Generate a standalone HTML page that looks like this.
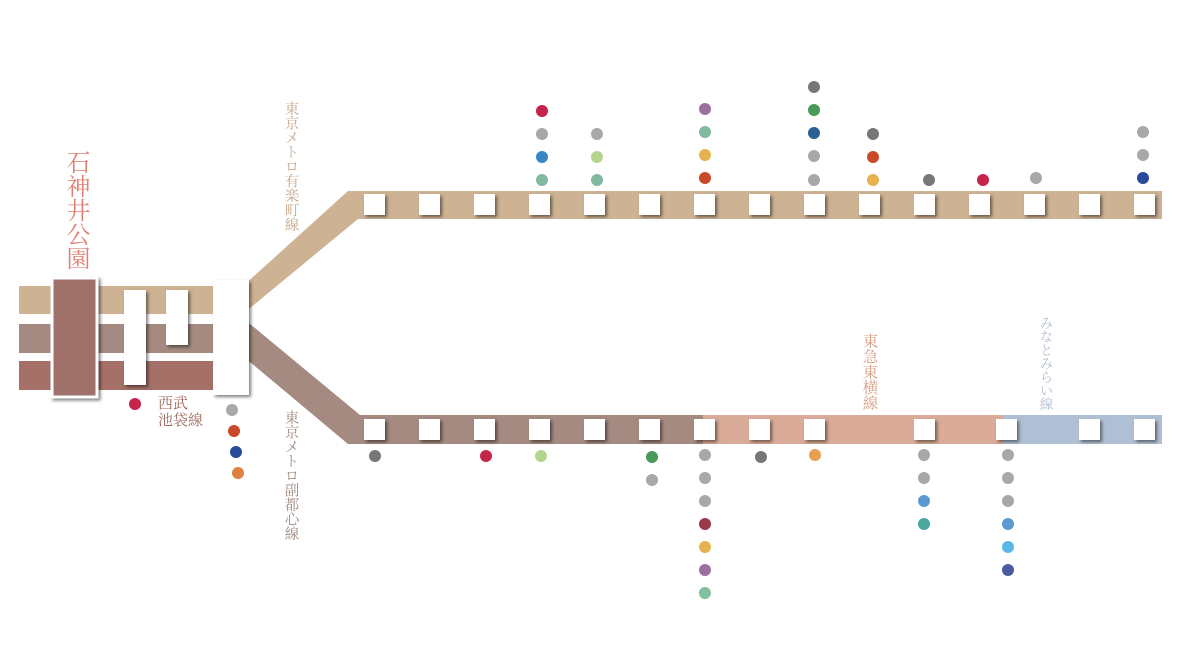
<!DOCTYPE html>
<html><head><meta charset="utf-8"><style>
body{margin:0;width:1200px;height:670px;background:#fff;overflow:hidden;position:relative;font-family:"Liberation Serif","Noto Serif CJK SC","Noto Sans CJK JP",serif}
.v{position:absolute;writing-mode:vertical-rl;line-height:1;}
</style></head><body>
<svg width="1200" height="670" style="position:absolute;left:0;top:0">
<defs><filter id="s" x="-30%" y="-30%" width="170%" height="170%"><feDropShadow dx="2" dy="2" stdDeviation="1.5" flood-color="#000" flood-opacity="0.5"/></filter></defs>
<rect x="19" y="286" width="200" height="28" fill="#cdb293"/>
<rect x="19" y="324" width="200" height="29" fill="#a48a80"/>
<rect x="19" y="361" width="200" height="29" fill="#a47068"/>
<polygon points="213,286 243,286 348,191 1162,191 1162,219 358,219 250,308 213,314" fill="#cdb293"/>
<polygon points="213,324 250,324 360,415 703,415 703,444 348,444 250,362 213,353" fill="#a48a80"/>
<rect x="703" y="415" width="300" height="29" fill="#d9ab98"/>
<rect x="1003" y="415" width="159" height="29" fill="#b0c0d4"/>
<rect x="52" y="278" width="45" height="119" fill="#a0706a" stroke="#fff" stroke-width="3" filter="url(#s)"/>
<g fill="#fff" filter="url(#s)">
<rect x="124" y="290" width="22" height="95"/>
<rect x="166" y="290" width="22" height="55"/>
<rect x="213" y="280" width="36" height="115"/>
<rect x="364" y="194" width="21" height="21"/><rect x="419" y="194" width="21" height="21"/><rect x="474" y="194" width="21" height="21"/><rect x="529" y="194" width="21" height="21"/><rect x="584" y="194" width="21" height="21"/><rect x="639" y="194" width="21" height="21"/><rect x="694" y="194" width="21" height="21"/><rect x="749" y="194" width="21" height="21"/><rect x="804" y="194" width="21" height="21"/><rect x="859" y="194" width="21" height="21"/><rect x="914" y="194" width="21" height="21"/><rect x="969" y="194" width="21" height="21"/><rect x="1024" y="194" width="21" height="21"/><rect x="1079" y="194" width="21" height="21"/><rect x="1134" y="194" width="21" height="21"/>
<rect x="364" y="419" width="21" height="21"/><rect x="419" y="419" width="21" height="21"/><rect x="474" y="419" width="21" height="21"/><rect x="529" y="419" width="21" height="21"/><rect x="584" y="419" width="21" height="21"/><rect x="639" y="419" width="21" height="21"/><rect x="694" y="419" width="21" height="21"/><rect x="749" y="419" width="21" height="21"/><rect x="804" y="419" width="21" height="21"/><rect x="914" y="419" width="21" height="21"/><rect x="996" y="419" width="21" height="21"/><rect x="1079" y="419" width="21" height="21"/><rect x="1134" y="419" width="21" height="21"/>
</g>
<g>
<circle cx="542" cy="111" r="6" fill="#c8234a"/><circle cx="542" cy="134" r="6" fill="#a8a8a8"/><circle cx="542" cy="157" r="6" fill="#3a86c4"/><circle cx="542" cy="180" r="6" fill="#82b8a0"/>
<circle cx="597" cy="134" r="6" fill="#a8a8a8"/><circle cx="597" cy="157" r="6" fill="#b5d48e"/><circle cx="597" cy="180" r="6" fill="#82b8a0"/>
<circle cx="705" cy="109" r="6" fill="#9b6fa0"/><circle cx="705" cy="132" r="6" fill="#82b8a0"/><circle cx="705" cy="155" r="6" fill="#e5b24f"/><circle cx="705" cy="178" r="6" fill="#c84a28"/>
<circle cx="814" cy="87" r="6" fill="#777"/><circle cx="814" cy="110" r="6" fill="#4a9a5a"/><circle cx="814" cy="133" r="6" fill="#2a5f94"/><circle cx="814" cy="156" r="6" fill="#a8a8a8"/><circle cx="814" cy="180" r="6" fill="#a8a8a8"/>
<circle cx="873" cy="134" r="6" fill="#777"/><circle cx="873" cy="157" r="6" fill="#c84a28"/><circle cx="873" cy="180" r="6" fill="#e5b24f"/>
<circle cx="929" cy="180" r="6" fill="#777"/><circle cx="983" cy="180" r="6" fill="#c8234a"/><circle cx="1036" cy="178" r="6" fill="#a8a8a8"/>
<circle cx="1143" cy="132" r="6" fill="#a8a8a8"/><circle cx="1143" cy="155" r="6" fill="#a8a8a8"/><circle cx="1143" cy="178" r="6" fill="#2a4a9a"/>
<circle cx="135" cy="404" r="6" fill="#c8234a"/>
<circle cx="232" cy="410" r="6" fill="#a8a8a8"/><circle cx="234" cy="431" r="6" fill="#c84a28"/><circle cx="236" cy="452" r="6" fill="#2a4a9a"/><circle cx="238" cy="473" r="6" fill="#e08040"/>
<circle cx="375" cy="456" r="6" fill="#777"/><circle cx="486" cy="456" r="6" fill="#c8234a"/><circle cx="541" cy="456" r="6" fill="#b5d48e"/>
<circle cx="652" cy="457" r="6" fill="#4a9a5a"/><circle cx="652" cy="480" r="6" fill="#a8a8a8"/>
<circle cx="705" cy="455" r="6" fill="#a8a8a8"/><circle cx="705" cy="478" r="6" fill="#a8a8a8"/><circle cx="705" cy="501" r="6" fill="#a8a8a8"/><circle cx="705" cy="524" r="6" fill="#9a3a48"/><circle cx="705" cy="547" r="6" fill="#e5b24f"/><circle cx="705" cy="570" r="6" fill="#9b6fa0"/><circle cx="705" cy="593" r="6" fill="#82c0a0"/>
<circle cx="761" cy="457" r="6" fill="#777"/><circle cx="815" cy="455" r="6" fill="#e8a050"/>
<circle cx="924" cy="455" r="6" fill="#a8a8a8"/><circle cx="924" cy="478" r="6" fill="#a8a8a8"/><circle cx="924" cy="501" r="6" fill="#5a9ad0"/><circle cx="924" cy="524" r="6" fill="#4aa8a0"/>
<circle cx="1008" cy="455" r="6" fill="#a8a8a8"/><circle cx="1008" cy="478" r="6" fill="#a8a8a8"/><circle cx="1008" cy="501" r="6" fill="#a8a8a8"/><circle cx="1008" cy="524" r="6" fill="#5a9ad0"/><circle cx="1008" cy="547" r="6" fill="#5ab8e8"/><circle cx="1008" cy="570" r="6" fill="#4a5aa0"/>
</g>
</svg>
<div class="v" style="left:63px;top:150px;font-size:24px;color:#e08070">石神井公園</div>
<div class="v" style="left:283px;top:101px;font-size:14.5px;color:#c8a88a">東京メトロ有楽町線</div>
<div class="v" style="left:283px;top:410px;font-size:14.5px;color:#a08a80">東京メトロ副都心線</div>
<div style="position:absolute;left:158px;top:396px;font-size:15px;line-height:17px;color:#a06a60">西武<br>池袋線</div>
<div class="v" style="left:861px;top:333px;font-size:15.5px;color:#d8a088">東急東横線</div>
<div class="v" style="left:1038px;top:316px;font-size:13.5px;color:#b0bcd0">みなとみらい線</div>
</body></html>
